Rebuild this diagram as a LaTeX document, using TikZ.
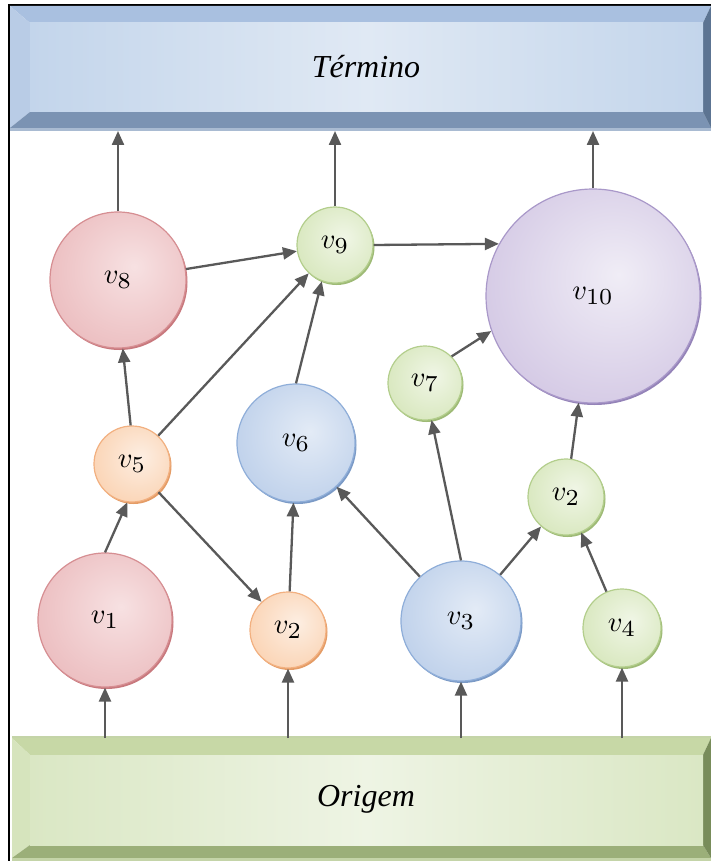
\documentclass[tikz,border=0pt]{standalone}
\usepackage{graphicx}
\usepackage{fontspec}
\setmainfont{Liberation Serif}
\usetikzlibrary{arrows.meta,shadows}
% node colours
\definecolor{redi}{HTML}{F7E1E2}\definecolor{redo}{HTML}{E6ACAF}\definecolor{redb}{HTML}{D68E92}\definecolor{redr}{HTML}{C8787D}
\definecolor{ori}{HTML}{FDEEE2}\definecolor{oro}{HTML}{F9C79E}\definecolor{orb}{HTML}{F2B080}\definecolor{orr}{HTML}{E49C66}
\definecolor{blui}{HTML}{E3EBF6}\definecolor{bluo}{HTML}{ADC4E5}\definecolor{blub}{HTML}{8FAED9}\definecolor{blur}{HTML}{7B9AC6}
\definecolor{gri}{HTML}{F0F6E6}\definecolor{gro}{HTML}{CCE0AA}\definecolor{grb}{HTML}{B3CE8C}\definecolor{grr}{HTML}{9EBA76}
\definecolor{pui}{HTML}{F0EDF6}\definecolor{puo}{HTML}{C6B7DC}\definecolor{pub}{HTML}{A998C9}\definecolor{pur}{HTML}{9483B8}
% bar colours
\definecolor{btop}{HTML}{A9C0E0}\definecolor{bleft}{HTML}{B9CCE6}\definecolor{bbot}{HTML}{7B93B3}\definecolor{bright}{HTML}{5C7492}
\definecolor{bfa}{HTML}{C3D5EB}\definecolor{bfb}{HTML}{E0E9F4}\definecolor{bline}{HTML}{A9BBD2}
\definecolor{gtop}{HTML}{C7D8A6}\definecolor{gleft}{HTML}{D6E4BD}\definecolor{gbot}{HTML}{9BAF79}\definecolor{gright}{HTML}{788C5A}
\definecolor{gfa}{HTML}{DAE7C4}\definecolor{gfb}{HTML}{EEF4E4}\definecolor{gline}{HTML}{C4D4A8}
\definecolor{arrgray}{HTML}{595959}
\pgfdeclareradialshading{shred}{\pgfpoint{6bp}{5bp}}{color(0bp)=(redi); color(46bp)=(redo); color(70bp)=(redo)}
\pgfdeclareradialshading{shor}{\pgfpoint{6bp}{5bp}}{color(0bp)=(ori); color(46bp)=(oro); color(70bp)=(oro)}
\pgfdeclareradialshading{shblu}{\pgfpoint{6bp}{5bp}}{color(0bp)=(blui); color(46bp)=(bluo); color(70bp)=(bluo)}
\pgfdeclareradialshading{shgr}{\pgfpoint{6bp}{5bp}}{color(0bp)=(gri); color(46bp)=(gro); color(70bp)=(gro)}
\pgfdeclareradialshading{shpu}{\pgfpoint{6bp}{5bp}}{color(0bp)=(pui); color(46bp)=(puo); color(70bp)=(puo)}
\newcommand{\vlab}[1]{\scalebox{2.85}{$v_{\scalebox{1.15}{$\scriptstyle #1$}}$}}
\tikzset{
  vbase/.style={circle, inner sep=0pt, line width=1.2pt, shade},
  rednode/.style={vbase, draw=redb, shading=shred, drop shadow={shadow xshift=1.5pt,shadow yshift=-2pt,fill=redr,opacity=1}},
  ornode/.style={vbase, draw=orb, shading=shor, drop shadow={shadow xshift=1.5pt,shadow yshift=-2pt,fill=orr,opacity=1}},
  blunode/.style={vbase, draw=blub, shading=shblu, drop shadow={shadow xshift=1.5pt,shadow yshift=-2pt,fill=blur,opacity=1}},
  grnode/.style={vbase, draw=grb, shading=shgr, drop shadow={shadow xshift=1.5pt,shadow yshift=-2pt,fill=grr,opacity=1}},
  punode/.style={vbase, draw=pub, shading=shpu, drop shadow={shadow xshift=1.5pt,shadow yshift=-2pt,fill=pur,opacity=1}},
  arr/.style={draw=arrgray, line width=2.3pt, -{Triangle[length=14pt,width=12pt]}},
  bartext/.style={inner sep=0pt, font=\fontsize{32}{36}\selectfont\itshape}
}
\begin{document}
\begin{tikzpicture}[x=1pt,y=-1pt]
\useasboundingbox (0,0) rectangle (711,861);
\fill[white] (0,0) rectangle (711,861);
% frame
\draw[line width=2pt, black] (9,861) -- (9,5) -- (711,5);
% top bar (Termino)
\fill[bline] (10,127) rectangle (711,131);
\fill[btop] (10,6) -- (711,6) -- (703,23) -- (30,23) -- cycle;
\fill[bleft] (10,6) -- (30,23) -- (30,112) -- (10,128) -- cycle;
\fill[bbot] (10,128) -- (30,112) -- (703,112) -- (711,128) -- cycle;
\fill[bright] (711,6) -- (703,23) -- (703,112) -- (711,128) -- cycle;
\shade[left color=bfa, right color=bfa, middle color=bfb] (30,23) rectangle (703,112);
% bottom bar (Origem)
\fill[gline] (12,736) rectangle (711,740);
\fill[gtop] (12,738) -- (711,738) -- (703,755) -- (30,755) -- cycle;
\fill[gleft] (12,738) -- (30,755) -- (30,845) -- (12,858) -- cycle;
\fill[gbot] (12,858) -- (30,845) -- (703,845) -- (711,858) -- cycle;
\fill[gright] (711,738) -- (703,755) -- (703,845) -- (711,858) -- cycle;
\fill[gline] (12,858) rectangle (711,861);
\shade[left color=gfa, right color=gfa, middle color=gfb] (30,755) rectangle (703,845);
\node[bartext] (term) at (366,67) {Término};
\node[bartext] (orig) at (366,799) {Origem};
\coordinate (termbottom) at (366,131);
\coordinate (origtop) at (366,738);
% vertex nodes
\node[rednode, minimum size=136pt] (v8) at (118,280) {\vlab{8}};
\node[grnode, minimum size=76pt] (v9) at (335,245) {\vlab{9}};
\node[punode, minimum size=214pt] (v10) at (593,296) {\vlab{10}};
\node[grnode, minimum size=74pt] (v7) at (425,383) {\vlab{7}};
\node[blunode, minimum size=118pt] (v6) at (296,443) {\vlab{6}};
\node[ornode, minimum size=76pt] (v5) at (132,464) {\vlab{5}};
\node[grnode, minimum size=76pt] (v2g) at (566,497) {\vlab{2}};
\node[rednode, minimum size=134pt] (v1) at (105,620) {\vlab{1}};
\node[ornode, minimum size=76pt] (v2b) at (288,630) {\vlab{2}};
\node[blunode, minimum size=120pt] (v3) at (461,621) {\vlab{3}};
\node[grnode, minimum size=78pt] (v4) at (622,628) {\vlab{4}};
% connectors from Origem
\draw[arr] (origtop -| v1.south) -- (v1.south);
\draw[arr] (origtop -| v2b.south) -- (v2b.south);
\draw[arr] (origtop -| v3.south) -- (v3.south);
\draw[arr] (origtop -| v4.south) -- (v4.south);
% inner connectors
\draw[arr] (v1.north) -- (v5.263);
\draw[arr] (v5.92) -- (v8.274);
\draw[arr] (v5) -- (v9);
\draw[arr] (v5) -- (v2b);
\draw[arr] (v2b) -- (v6);
\draw[arr] (v8) -- (v9);
\draw[arr] (v6.north) -- (v9.250);
\draw[arr] (v9.east) -- (v10.151);
\draw[arr] (v7.45) -- (v10.199);
\draw[arr] (v3) -- (v6);
\draw[arr] (v3.north) -- (v7.280);
\draw[arr] (v3) -- (v2g);
\draw[arr] (v4) -- (v2g);
\draw[arr] (v2g) -- (v10);
% connectors to Termino
\draw[arr] (v8.north) -- (v8.north |- termbottom);
\draw[arr] (v9.north) -- (v9.north |- termbottom);
\draw[arr] (v10.north) -- (v10.north |- termbottom);
\end{tikzpicture}
\end{document}
